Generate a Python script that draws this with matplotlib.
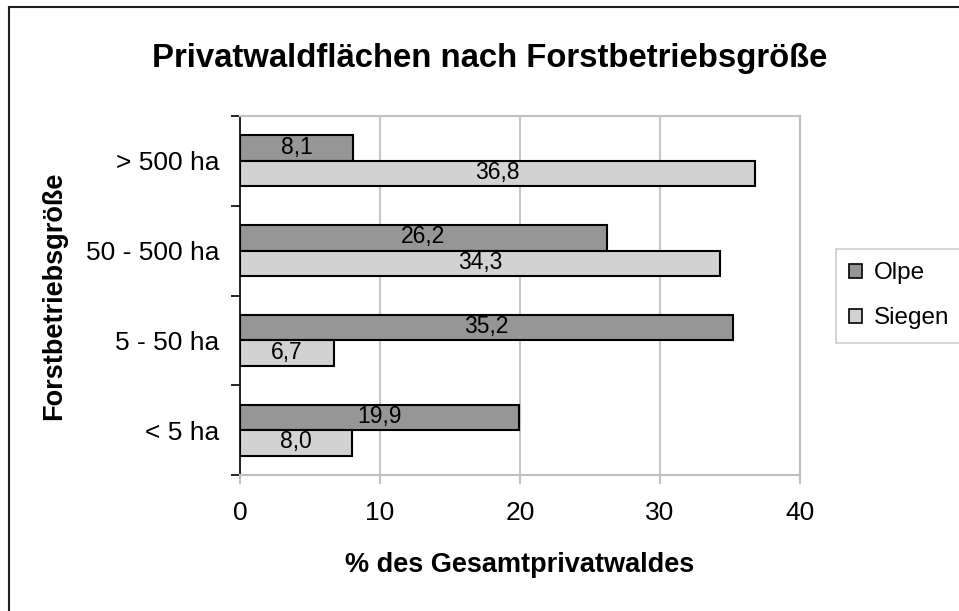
import matplotlib
matplotlib.use("Agg")
import matplotlib.pyplot as plt
from matplotlib.patches import Rectangle
from matplotlib.lines import Line2D
import numpy as np

plt.rcParams['font.family'] = ['Liberation Sans', 'DejaVu Sans']

categories = ["< 5 ha", "5 - 50 ha", "50 - 500 ha", "> 500 ha"]
olpe = [19.9, 35.2, 26.2, 8.1]
siegen = [8.0, 6.7, 34.3, 36.8]
series_names = ["Olpe", "Siegen"]
xticks = [0, 10, 20, 30, 40]

c_olpe = "#969696"
c_siegen = "#d2d2d2"

W, H = 959, 611
fig = plt.figure(figsize=(W/100, H/100), dpi=100)
# outer chart border (cut off on right/bottom)
fig.add_artist(Line2D([9/W, 9/W], [0, 1 - 7/H], color="#202020", lw=1.5, transform=fig.transFigure))
fig.add_artist(Line2D([9/W, 1], [1 - 7/H, 1 - 7/H], color="#202020", lw=1.5, transform=fig.transFigure))

ax = fig.add_axes([240/W, 1 - 475/H, 560/W, (475 - 116)/H])

y = np.arange(len(categories))
h = 0.285
b1 = ax.barh(y + h/2, olpe, height=h, color=c_olpe, edgecolor="black", linewidth=1.5, label=series_names[0], zorder=3)
b2 = ax.barh(y - h/2, siegen, height=h, color=c_siegen, edgecolor="black", linewidth=1.5, label=series_names[1], zorder=3)

for bars, vals in ((b1, olpe), (b2, siegen)):
    for rect, v in zip(bars, vals):
        ax.annotate(f"{v:.1f}".replace(".", ","),
                    (rect.get_x() + rect.get_width()/2, rect.get_y() + rect.get_height()/2),
                    xytext=(0, -4), textcoords="offset points",
                    ha="center", va="baseline", fontsize=16.5, zorder=4)

ax.set_xlim(0, 40)
ax.set_ylim(-0.5, len(categories) - 0.5)
ax.set_xticks(xticks)
ax.set_xticklabels([str(t) for t in xticks], fontsize=19)
ax.set_yticks(y)
ax.set_yticklabels(categories, fontsize=19)
ax.set_yticks(np.arange(-0.5, len(categories), 1), minor=True)
ax.tick_params(axis="y", which="major", length=0, pad=15)
ax.tick_params(axis="y", which="minor", length=6.5, width=1.2, color="black", direction="out")
ax.tick_params(axis="x", length=6.5, color="#c0c0c0", width=1.5, pad=12)

ax.grid(axis="x", color="#c8c8c8", lw=1.5, zorder=0)
for s in ("top", "right", "bottom"):
    ax.spines[s].set_color("#c0c0c0")
    ax.spines[s].set_linewidth(1.5)
ax.spines["left"].set_color("black")
ax.spines["left"].set_linewidth(1.2)

ax.set_xlabel("% des Gesamtprivatwaldes", fontsize=19.5, fontweight="bold", va="center")
ax.xaxis.set_label_coords(0.5, (475 - 565) / (475 - 116))
ax.set_ylabel("Forstbetriebsgröße", fontsize=19.5, fontweight="bold", va="center")
ax.yaxis.set_label_coords((54 - 240) / 560, 0.5)

fig.text(489.5/W, 1 - 67/H, "Privatwaldflächen nach Forstbetriebsgröße", ha="center", va="baseline",
         fontsize=23.7, fontweight="bold")

handles = [Rectangle((0, 0), 1, 1, facecolor=c_olpe, edgecolor="black", lw=1.2),
           Rectangle((0, 0), 1, 1, facecolor=c_siegen, edgecolor="black", lw=1.2)]
leg = fig.legend(handles, series_names, loc="upper left", bbox_to_anchor=(836/W, 1 - 249/H),
                 fontsize=17.5, frameon=True, fancybox=False, handlelength=0.5, handleheight=0.5,
                 handletextpad=0.5, borderpad=0.55, labelspacing=0.95, borderaxespad=0)
leg.get_frame().set_edgecolor("#c0c0c0")
leg.get_frame().set_linewidth(1.2)

fig.savefig("out.png", dpi=100)
